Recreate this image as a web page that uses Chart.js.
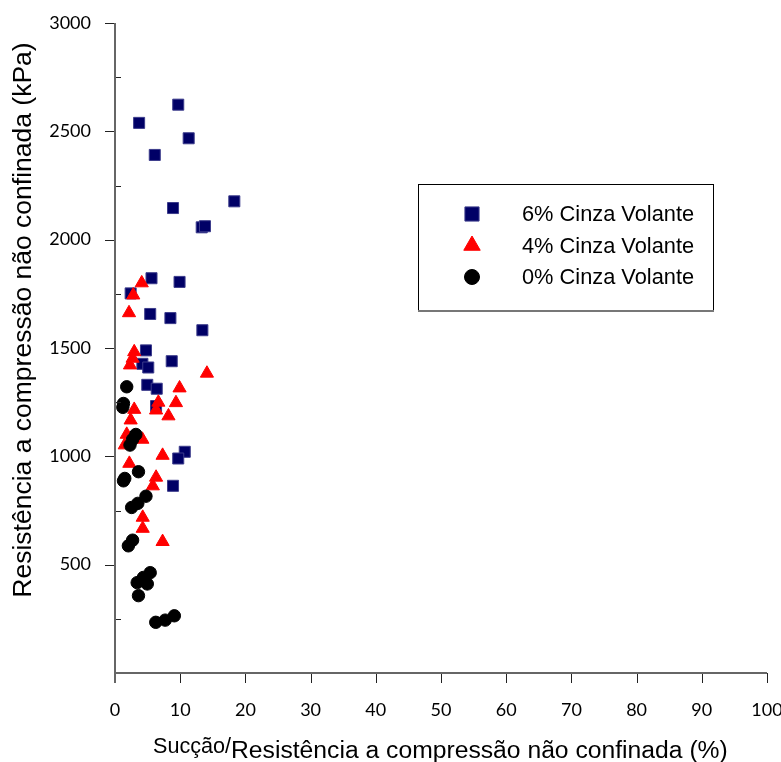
<!DOCTYPE html>
<html>
<head>
<meta charset="utf-8">
<script src="https://cdn.jsdelivr.net/npm/chart.js@4.4.1/dist/chart.umd.min.js"></script>
<style>
  html, body { margin: 0; padding: 0; background: #fff; }
  #wrap { width: 781px; height: 762px; }
</style>
</head>
<body>
<div id="wrap"><canvas id="grafico" width="781" height="762"></canvas></div>
<script>
// valores
const cinza6X = [9.7, 3.7, 11.3, 6.1, 18.3, 8.9, 13.3, 13.8, 5.6, 9.9, 2.4, 5.4, 8.5, 13.4, 4.75, 8.7, 4.2, 5.1, 4.95, 6.4, 6.3, 10.7, 9.7, 8.9];
const cinza6Y = [2623, 2539, 2468, 2391, 2177, 2146, 2057, 2062, 1822, 1805, 1752, 1657, 1638, 1582, 1489, 1439, 1427, 1410, 1330, 1312, 1232, 1021, 990, 864];

const cinza4X = [4.1, 2.8, 2.15, 2.95, 2.7, 2.3, 14.1, 9.9, 6.65, 9.35, 2.95, 6.3, 8.2, 2.4, 1.8, 4.2, 1.5, 7.3, 2.2, 6.3, 5.8, 4.25, 4.25, 7.3];
const cinza4Y = [1800, 1744, 1662, 1482, 1452, 1421, 1383, 1315, 1249, 1247, 1216, 1213, 1186, 1167, 1101, 1078, 1052, 1004, 967, 903, 863, 718, 667, 606];

const cinza0X = [1.8, 1.3, 1.2, 3.2, 2.7, 2.3, 3.6, 1.5, 1.3, 4.75, 3.5, 2.55, 2.7, 2.05, 5.4, 4.35, 3.4, 4.95, 3.6, 9.1, 7.7, 6.25];
const cinza0Y = [1321, 1244, 1226, 1101, 1078, 1052, 929, 898, 887, 816, 783, 764, 613, 587, 463, 441, 417, 411, 357, 264, 244, 234];

const legendas = ['6% Cinza Volante', '4% Cinza Volante', '0% Cinza Volante'];
const ticksY = [500, 1000, 1500, 2000, 2500, 3000];
const ticksYMenores = [250, 750, 1250, 1750, 2250, 2750];
const ticksX = [0, 10, 20, 30, 40, 50, 60, 70, 80, 90, 100];

function pares(xs, ys) {
  return xs.map((x, i) => ({ x: x, y: ys[i] }));
}

const estilos = [
  { pointStyle: 'rect', radius: 7.8, cor: '#000066', borda: '#3c3c8c', legRadius: 10 },
  { pointStyle: 'triangle', radius: 7.6, cor: '#ff0000', borda: '#ff0000', legRadius: 9.5 },
  { pointStyle: 'circle', radius: 6.2, cor: '#000000', borda: '#000000', legRadius: 7.5 }
];

const dados = [pares(cinza6X, cinza6Y), pares(cinza4X, cinza4Y), pares(cinza0X, cinza0Y)];

const datasets = dados.map((d, i) => ({
  label: legendas[i],
  data: d,
  pointStyle: estilos[i].pointStyle,
  pointRadius: estilos[i].radius,
  pointHoverRadius: estilos[i].radius,
  backgroundColor: estilos[i].cor,
  borderColor: estilos[i].borda,
  borderWidth: 1,
  order: 3 - i
}));

// eixos, ticks, títulos e legenda desenhados à mão
const desenhoExtra = {
  id: 'desenhoExtra',
  afterDraw(chart) {
    const ctx = chart.ctx;
    const sx = chart.scales.x;
    const sy = chart.scales.y;
    const x0 = sx.getPixelForValue(0);
    const x1 = sx.getPixelForValue(100);
    const y0 = sy.getPixelForValue(0);
    const y1 = sy.getPixelForValue(3000);
    ctx.save();

    // ticks
    ctx.strokeStyle = '#222';
    ctx.lineWidth = 1;
    ctx.beginPath();
    ticksY.forEach(v => {
      const p = Math.round(sy.getPixelForValue(v)) + 0.5;
      ctx.moveTo(x0 - 10, p); ctx.lineTo(x0, p);
    });
    ticksYMenores.forEach(v => {
      const p = Math.round(sy.getPixelForValue(v)) + 0.5;
      ctx.moveTo(x0, p); ctx.lineTo(x0 + 6, p);
    });
    ticksX.forEach(v => {
      const p = Math.round(sx.getPixelForValue(v)) + 0.5;
      ctx.moveTo(p, y0); ctx.lineTo(p, y0 + 10);
    });
    ctx.stroke();

    // linhas dos eixos
    ctx.strokeStyle = '#666';
    ctx.lineWidth = 2;
    ctx.beginPath();
    ctx.moveTo(x0, y1); ctx.lineTo(x0, y0 + 10);
    ctx.moveTo(x0, y0); ctx.lineTo(x1, y0);
    ctx.stroke();

    // título do eixo x (duas partes com tamanhos diferentes)
    ctx.fillStyle = '#000';
    ctx.textBaseline = 'alphabetic';
    ctx.textAlign = 'left';
    ctx.font = '21.6px "Liberation Sans", Arial, sans-serif';
    const parte1 = 'Sucção/';
    const w1 = ctx.measureText(parte1).width;
    ctx.fillText(parte1, 153, 753);
    ctx.font = '24.7px "Liberation Sans", Arial, sans-serif';
    ctx.fillText('Resistência a compressão não confinada (%)', 153 + w1, 758);

    // título do eixo y
    ctx.save();
    ctx.translate(31, 320);
    ctx.rotate(-Math.PI / 2);
    ctx.textAlign = 'center';
    ctx.font = '26.5px "Liberation Sans", Arial, sans-serif';
    ctx.fillText('Resistência a compressão não confinada (kPa)', 0, 0);
    ctx.restore();

    // legenda
    const lx = 418, ly = 184, lw = 295, lh = 126;
    ctx.fillStyle = '#fff';
    ctx.fillRect(lx, ly, lw, lh);
    ctx.strokeStyle = '#000';
    ctx.lineWidth = 1;
    ctx.strokeRect(lx + 0.5, ly + 0.5, lw, lh);
    ctx.strokeStyle = '#777';
    ctx.lineWidth = 2;
    ctx.beginPath();
    ctx.moveTo(lx, ly + lh + 1); ctx.lineTo(lx + lw + 1, ly + lh + 1);
    ctx.stroke();

    ctx.font = '21.8px "Liberation Sans", Arial, sans-serif';
    ctx.textBaseline = 'middle';
    ctx.textAlign = 'left';
    legendas.forEach((t, i) => {
      const yy = ly + 30 + i * 31.5;
      ctx.fillStyle = estilos[i].cor;
      ctx.strokeStyle = estilos[i].borda;
      ctx.lineWidth = 1;
      Chart.helpers.drawPoint(ctx, { pointStyle: estilos[i].pointStyle, radius: estilos[i].legRadius, borderWidth: 1 }, lx + 54, yy);
      ctx.fillStyle = '#000';
      ctx.fillText(t, lx + 104, yy + 1);
    });
    ctx.restore();
  }
};

new Chart(document.getElementById('grafico'), {
  type: 'scatter',
  data: { datasets: datasets },
  options: {
    responsive: false,
    animation: false,
    layout: { padding: { left: 0, right: 14, top: 23, bottom: 0 } },
    plugins: { legend: { display: false }, tooltip: { enabled: false } },
    scales: {
      x: {
        type: 'linear',
        min: 0,
        max: 100,
        afterFit: s => { s.height = 89; s.paddingLeft = 0; s.paddingRight = 0; },
        grid: { display: false },
        border: { display: false },
        ticks: {
          stepSize: 10,
          padding: 18,
          color: '#000',
          font: { family: 'Lato', size: 18 }
        }
      },
      y: {
        type: 'linear',
        min: 0,
        max: 3000,
        afterFit: s => { s.width = 115; s.paddingTop = 0; s.paddingBottom = 0; },
        grid: { display: false },
        border: { display: false },
        ticks: {
          stepSize: 500,
          padding: 16,
          color: '#000',
          font: { family: 'Lato', size: 18 },
          callback: v => (v === 0 ? '' : v)
        }
      }
    }
  },
  plugins: [desenhoExtra]
});
</script>
</body>
</html>
